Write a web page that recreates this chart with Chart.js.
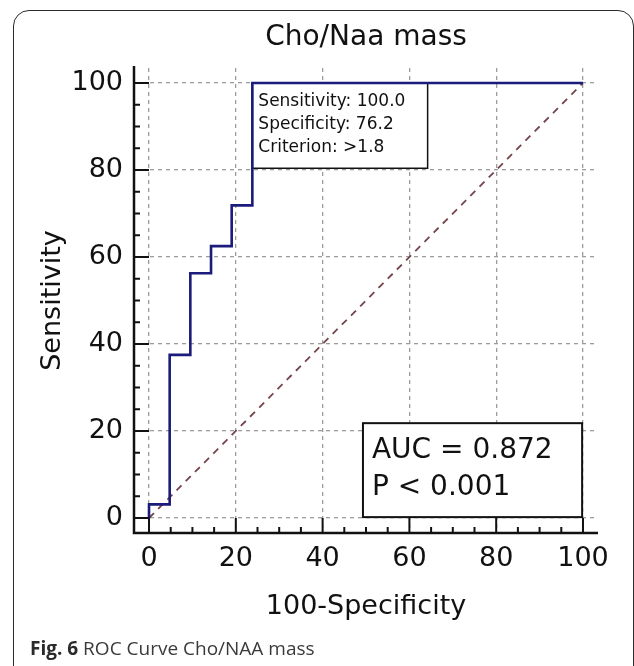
<!DOCTYPE html>
<html lang="en">
  <head>
    <meta charset="utf-8" />
    <title>ROC Curve Cho/NAA mass</title>
    <style>
      * {
        margin: 0;
        padding: 0;
      }
      body {
        background: #fff;
        width: 634px;
        height: 666px;
        overflow: hidden;
        position: relative;
      }
      .frame {
        position: absolute;
        left: 13px;
        top: 10px;
        width: 619px;
        height: 690px;
        border: 1.5px solid #2a2a2a;
        border-radius: 16px;
      }
      #rocChart {
        position: absolute;
        left: 0;
        top: 0;
      }
      .caption {
        position: absolute;
        left: 30px;
        top: 635px;
        font-family: "Open Sans", sans-serif;
        font-size: 19px;
        color: #3a3a3a;
        white-space: nowrap;
      }
      .caption b {
        color: #2a2a2a;
      }
    </style>
  </head>
  <body>
    <div class="frame"></div>
    <canvas id="rocChart" width="634" height="666"></canvas>
    <div class="caption"><b>Fig. 6</b> ROC Curve Cho/NAA mass</div>

    <script src="https://cdn.jsdelivr.net/npm/chart.js"></script>

    <script>
      // ROC curve points (100-Specificity, Sensitivity)
      const falsePositive = [0, 0, 4.76, 9.52, 14.29, 19.05, 23.81, 100];
      const sensitivity = [0, 3.13, 37.5, 56.25, 62.5, 71.88, 100, 100];
      // reference line
      const diagX = [0, 100];
      const diagY = [0, 100];
      // tick labels
      const tickValues = [0, 20, 40, 60, 80, 100];
      // annotation texts
      const criterionLines = ["Sensitivity: 100.0", "Specificity: 76.2", "Criterion: >1.8"];
      const aucLines = ["AUC = 0.872", "P < 0.001"];

      const FONT = "'DejaVu Sans', sans-serif";

      const toPoints = (xs, ys) => xs.map((v, i) => ({ x: v, y: ys[i] }));

      // boxes + axes with inward ticks, drawn through the chart scales
      const rocPlugin = {
        id: "rocPlugin",
        beforeDatasetsDraw(chart) {
          const { ctx, scales } = chart;
          const x = scales.x;
          const y = scales.y;
          ctx.save();

          // criterion box
          let l = x.getPixelForValue(23.81);
          let r = x.getPixelForValue(64.2);
          let t = y.getPixelForValue(100);
          let b = y.getPixelForValue(80.4);
          ctx.fillStyle = "#fff";
          ctx.fillRect(l, t, r - l, b - t);
          ctx.strokeStyle = "#111";
          ctx.lineWidth = 1.5;
          ctx.strokeRect(l, t, r - l, b - t);
          ctx.fillStyle = "#111";
          ctx.font = "17px " + FONT;
          ctx.textBaseline = "middle";
          ctx.textAlign = "left";
          criterionLines.forEach((s, i) => ctx.fillText(s, l + 6, t + 19 + i * 23));

          // AUC box
          l = x.getPixelForValue(49.3);
          r = x.getPixelForValue(99.8);
          t = y.getPixelForValue(21.8);
          b = y.getPixelForValue(0.2);
          ctx.fillStyle = "#fff";
          ctx.fillRect(l, t, r - l, b - t);
          ctx.lineWidth = 2;
          ctx.strokeRect(l, t, r - l, b - t);
          ctx.fillStyle = "#111";
          ctx.font = "28px " + FONT;
          aucLines.forEach((s, i) => ctx.fillText(s, l + 9, t + 28 + i * 37));
          ctx.restore();
        },
        afterDatasetsDraw(chart) {
          const { ctx, chartArea: a, scales } = chart;
          const x = scales.x;
          const y = scales.y;
          ctx.save();
          ctx.strokeStyle = "#111";
          ctx.lineWidth = 2.5;
          ctx.beginPath();
          ctx.moveTo(a.left, a.top - 2);
          ctx.lineTo(a.left, a.bottom);
          ctx.lineTo(a.right, a.bottom);
          ctx.stroke();

          const majX = x.getPixelForValue(0) - a.left;
          const majY = a.bottom - y.getPixelForValue(0);
          ctx.lineWidth = 2;
          ctx.beginPath();
          for (let v = 0; v <= 100; v += 5) {
            const major = v % 20 === 0;
            const px = x.getPixelForValue(v);
            ctx.moveTo(px, a.bottom);
            ctx.lineTo(px, a.bottom - (major ? majY : 6));
            const py = y.getPixelForValue(v);
            ctx.moveTo(a.left, py);
            ctx.lineTo(a.left + (major ? majX : 6), py);
          }
          ctx.stroke();
          ctx.restore();
        },
      };

      const gridOpts = {
        color: "#9c9c9c",
        lineWidth: 1.3,
        drawTicks: false,
      };

      const config = {
        type: "scatter",
        data: {
          datasets: [
            {
              label: "ROC",
              data: toPoints(falsePositive, sensitivity),
              showLine: true,
              stepped: true,
              borderColor: "#1b1b7c",
              borderWidth: 2.6,
              pointRadius: 0,
            },
            {
              label: "Reference",
              data: toPoints(diagX, diagY),
              showLine: true,
              borderColor: "#74444a",
              borderWidth: 1.8,
              borderDash: [7, 6],
              pointRadius: 0,
            },
          ],
        },
        options: {
          responsive: false,
          animation: false,
          devicePixelRatio: 1,
          layout: {
            padding: { top: 0, left: 0, right: 36, bottom: 0 },
          },
          plugins: {
            legend: { display: false },
            tooltip: { enabled: false },
            title: {
              display: true,
              text: "Cho/Naa mass",
              fullSize: false,
              color: "#111",
              font: { family: FONT, size: 28, weight: "normal" },
              padding: { top: 21, bottom: 13.4 },
            },
          },
          scales: {
            x: {
              type: "linear",
              min: -3.46,
              max: 103.46,
              afterFit: (s) => {
                s.height = 133;
              },
              afterBuildTicks: (s) => {
                s.ticks = tickValues.map((v) => ({ value: v }));
              },
              grid: gridOpts,
              border: { display: false, dash: [4, 4] },
              ticks: {
                color: "#111",
                padding: 10,
                maxRotation: 0,
                font: { family: FONT, size: 27 },
              },
              title: {
                display: true,
                text: "100-Specificity",
                color: "#111",
                font: { family: FONT, size: 27 },
                padding: { top: 0, bottom: 43 },
              },
            },
            y: {
              type: "linear",
              min: -3.45,
              max: 103.45,
              afterFit: (s) => {
                s.width = 134;
              },
              afterBuildTicks: (s) => {
                s.ticks = tickValues.map((v) => ({ value: v }));
              },
              grid: gridOpts,
              border: { display: false, dash: [4, 4] },
              ticks: {
                color: "#111",
                padding: 11,
                font: { family: FONT, size: 27 },
              },
              title: {
                display: true,
                text: "Sensitivity",
                color: "#111",
                font: { family: FONT, size: 27 },
                padding: { top: 37, bottom: 0 },
              },
            },
          },
        },
        plugins: [rocPlugin],
      };

      const rocChart = new Chart(document.getElementById("rocChart"), config);
    </script>
  </body>
</html>
